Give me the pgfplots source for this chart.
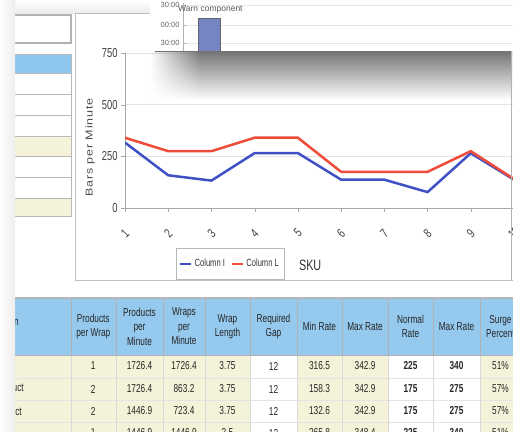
\documentclass[border=0pt]{standalone}
\usepackage{pgfplots}
\pgfplotsset{compat=1.18}
\usepackage{fontspec}
\setmainfont{Liberation Sans}
\newfontfamily\narrow[FakeStretch=0.72]{Liberation Sans}
\newfontfamily\ylabfam[FakeStretch=1.25, LetterSpace=8]{Liberation Sans}
\usetikzlibrary{fadings}
\tikzfading[name=fadeL, left color=transparent!100, right color=transparent!0]
\definecolor{hdrblue}{HTML}{95C9EE}
\definecolor{cream}{HTML}{F4F2D8}
\definecolor{formblue}{HTML}{8DC6EE}
\definecolor{lineblue}{HTML}{3F51C4}
\definecolor{linered}{HTML}{EE4B3B}
\definecolor{barblue}{HTML}{7585C4}
\begin{document}
\begin{tikzpicture}[x=1pt,y=-1pt]
\useasboundingbox (0,0) rectangle (513,431);
\clip (0,0) rectangle (513,431);
\fill[white] (0,0) rectangle (513,431);
\shade[top color=white, bottom color=gray!15] (0,0) rectangle (150,13);
% left form
\draw[gray!60, line width=1.5pt, fill=white] (5,15) rectangle (71,43);
\foreach \ya/\yb/\c in {54/73/formblue, 73/94/white, 94/115/white, 115/136/white, 136/156/cream, 156/177/white, 177/198/white, 198/216/cream}
  \draw[gray!55, line width=0.8pt, fill=\c] (5,\ya) rectangle (71,\yb);
% chart panel
\draw[gray!50, fill=white, line width=0.8pt] (75,13) rectangle (530,280);
% background window with bar
\fill[white] (150,0) rectangle (520,51);
\begin{axis}[at={(183pt,-51pt)}, anchor=south west, scale only axis,
  width=330pt, height=48pt, xmin=0, xmax=330, ymin=0, ymax=48,
  axis x line=none, axis y line*=left, y axis line style={gray!60},
  ytick={8,26,46}, yticklabels={30:00,00:00,30:00},
  ymajorgrids, grid style={gray!20}, major tick length=3pt, tick style={gray!60},
  yticklabel style={font=\fontsize{7.5}{7.5}\selectfont, text=gray!80!black},
  /pgf/number format/assume math mode=true,
  ybar, bar width=22pt]
\addplot[fill=barblue, draw=black!60] coordinates {(26,33)};
\end{axis}
\node[anchor=west, font=\fontsize{8.5}{8.5}\selectfont, text=gray!70!black, inner sep=0pt] at (178,9) {Warn component};
% main chart
\begin{axis}[at={(125pt,-208pt)}, anchor=south west, scale only axis,
  width=389pt, height=155pt, xmin=1, xmax=10, ymin=0, ymax=750,
  axis lines*=left, axis line style={gray!70, line width=0.8pt},
  xtick={1,2,3,4,5,6,7,8,9,10}, ytick={0,250,500,750},
  ymajorgrids, grid style={gray!22, line width=0.8pt},
  tick align=outside, major tick length=4pt, tick style={gray!70},
  /pgf/number format/assume math mode=true,
  yticklabel style={font=\narrow\fontsize{13}{13}\selectfont, text=black!75},
  xticklabel style={font=\narrow\fontsize{13}{13}\selectfont, text=black!75, rotate=45, anchor=center},
  xticklabel shift=21pt,
  ylabel={Bars per Minute},
  ylabel style={at={(axis description cs:-0.09,0.39)}, anchor=center, font={\ylabfam\fontsize{10}{10}\selectfont}, text=black!70},
  xlabel={SKU},
  xlabel style={at={(axis description cs:0.476,-0.37)}, anchor=center, font=\narrow\fontsize{15}{15}\selectfont, text=black!80},
  legend style={at={(0.131,-0.258)}, anchor=north west, draw=gray!55, fill=white,
    font=\narrow\fontsize{10.5}{11}\selectfont, text=black!80, inner xsep=3pt, inner ysep=9pt,
    /tikz/every even column/.append style={column sep=4pt}},
  legend columns=2, legend cell align=left,
  legend image code/.code={\draw[#1, line width=2.5pt] (0pt,0pt) -- (11pt,0pt);}]
\addplot[lineblue, line width=2.5pt] coordinates {(1,316.5) (2,158.3) (3,132.6) (4,265.8) (5,265.8) (6,137) (7,137) (8,77) (9,265) (10,137)};
\addplot[linered, line width=2.5pt] coordinates {(1,340) (2,275) (3,275) (4,340) (5,340) (6,175) (7,175) (8,175) (9,275) (10,140)};
\legend{Column I, Column L}
\end{axis}
% overlay shadow
\shade[top color=black!55, bottom color=white] (200,51) rectangle (512,100);
\shade[top color=black!55, bottom color=white, path fading=fadeL] (150,51) rectangle (200,100);
\draw[black!55, line width=1pt] (155,51) -- (512,51);
\draw[gray!60, line width=1pt] (511.5,51) -- (511.5,280);
% table
\draw[gray!55] (0,297) -- (513,297);
\foreach \xa/\xb/\c in {5/70.7/cream, 70.7/116/cream, 116/163/cream, 163/205/cream, 205/250/cream, 250/297/white, 297/342/cream, 342/388/cream, 388/433/white, 433/480/white, 480/540/cream} {
  \fill[\c] (\xa,355) rectangle (\xb,444);
  \fill[hdrblue] (\xa,298) rectangle (\xb,355);
}
\foreach \y in {378,400,422} \draw[gray!22] (0,\y) -- (513,\y);
\foreach \x in {70.7,116,163,205,250,297,342,388,433,480} {
  \draw[gray!30] (\x,355) -- (\x,444);
  \draw[gray!60] (\x,298) -- (\x,355);
}
\draw[gray!60] (0,298) -- (513,298);
\draw[gray!60] (0,355) -- (513,355);
\begin{scope}[every node/.style={font=\narrow\fontsize{11.5}{14.5}\selectfont, text=black!85, align=center, inner sep=0pt}]
\node[anchor=east] at (19,323) {Description};
\node at (93.3,326.5) {Products\\per Wrap};
\node at (139.5,326.5) {Products\\per\\Minute};
\node at (184,326.5) {Wraps\\per\\Minute};
\node at (227.5,326.5) {Wrap\\Length};
\node at (273.5,326.5) {Required\\Gap};
\node at (319.5,326.5) {Min Rate};
\node at (365,326.5) {Max Rate};
\node at (410.5,326.5) {Normal\\Rate};
\node at (456.5,326.5) {Max Rate};
\node[anchor=west] at (486,326.5) {Surge\\Percent};
\node[anchor=east] at (24,389) {Single Product};
\node[anchor=east] at (22,411) {Double Product};
\foreach \y/\a/\b/\cc/\d/\e/\f/\g/\h/\i/\j in {
  366/1/1726.4/1726.4/3.75/12/316.5/342.9/225/340/51\%,
  389/2/1726.4/863.2/3.75/12/158.3/342.9/175/275/57\%,
  411/2/1446.9/723.4/3.75/12/132.6/342.9/175/275/57\%,
  433/1/1446.9/1446.9/2.5/12/265.8/348.4/225/340/51\%} {
  \node at (93.3,\y) {\a};
  \node at (139.5,\y) {\b};
  \node at (184,\y) {\cc};
  \node at (227.5,\y) {\d};
  \node at (273.5,\y) {\e};
  \node at (319.5,\y) {\f};
  \node at (365,\y) {\g};
  \node at (410.5,\y) {\bfseries\h};
  \node at (456.5,\y) {\bfseries\i};
  \node[anchor=west] at (492,\y) {\j};
}
\end{scope}
% left shadow strip
\shade[left color=white, right color=gray!14] (0,0) rectangle (15,431);
\end{tikzpicture}
\end{document}
